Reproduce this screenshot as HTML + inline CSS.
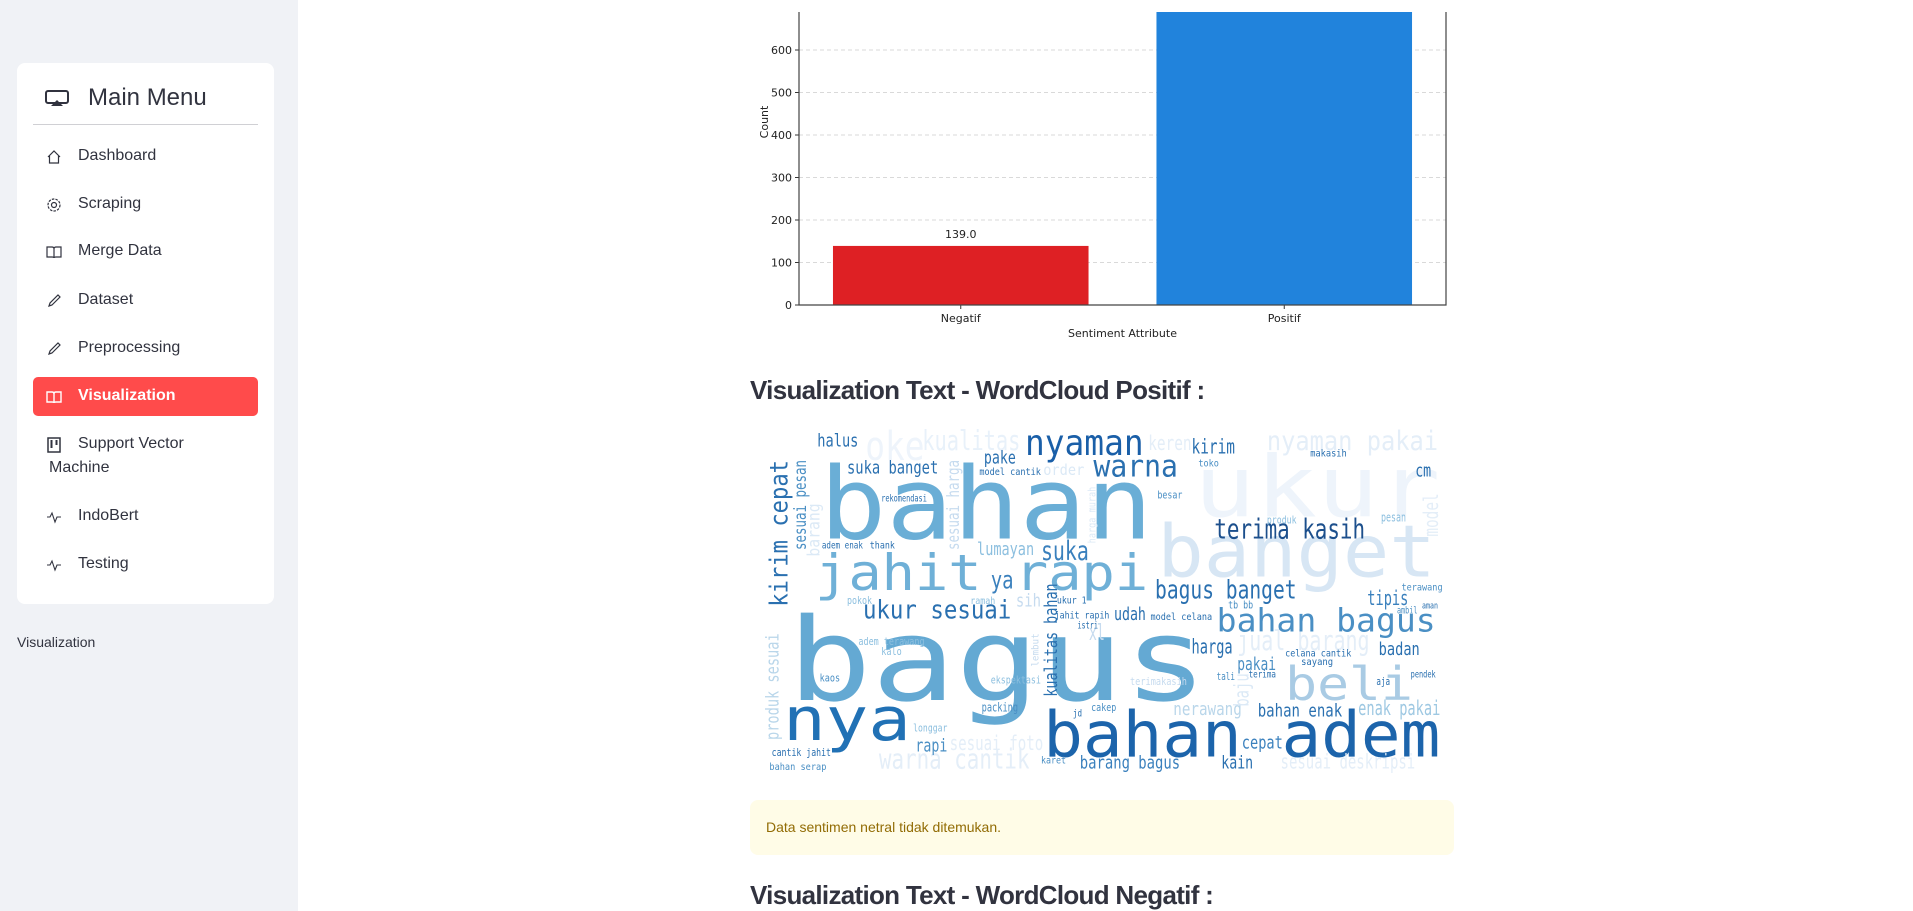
<!DOCTYPE html>
<html><head><meta charset="utf-8">
<style>
*{margin:0;padding:0;box-sizing:border-box}
body{width:1913px;height:911px;overflow:hidden;background:#fff;font-family:"Liberation Sans",sans-serif;position:relative;color:#31333f}
#sidebar{position:absolute;left:0;top:0;width:298px;height:911px;background:#f0f2f6}
#card{position:absolute;left:17px;top:63px;width:257px;height:541px;background:#fff;border-radius:8px}
.title{position:absolute;left:88px;top:84px;font-size:24px;color:#31333f}
.divider{position:absolute;left:16px;top:61px;width:225px;height:1px;background:#d0d0d4}
.item{position:absolute;left:33px;width:225px;height:39px;font-size:16px;color:#31333f}
.item span.t{position:absolute;left:45px;top:10px}
.item svg{position:absolute;left:13px;top:12px}
.item.active{background:#ff4b4b;border-radius:5px;color:#fff;font-weight:bold}
h3{position:absolute;left:750px;font-size:26px;font-weight:bold;color:#31333f;font-family:"Liberation Sans",sans-serif;letter-spacing:-0.7px}
</style></head><body>
<div id="sidebar">
 <div id="card">
  <svg style="position:absolute;left:28px;top:27px" width="24" height="17" viewBox="0 0 24 17"><rect x="1" y="1" width="22" height="12" rx="2" fill="none" stroke="#31333f" stroke-width="2"/><polygon points="6,16 12,10 18,16" fill="#31333f"/></svg>
  <div class="divider"></div>
 </div>
 <div class="title">Main Menu</div>
</div>
<div id="items"></div>
<div style="position:absolute;left:17px;top:634px;font-size:14px;color:#31333f">Visualization</div>

<svg id="chart" style="position:absolute;left:0;top:0" width="1913" height="360"></svg>

<h3 style="top:375px">Visualization Text - WordCloud Positif :</h3>
<svg id="wc" style="position:absolute;left:742px;top:420px" width="712" height="370" viewBox="0 0 1560 1110" preserveAspectRatio="none"></svg>
<div style="position:absolute;left:750px;top:800px;width:704px;height:55px;background:#fffce7;border-radius:8px;font-size:14px;color:#926c05;padding:19px 0 0 16px">Data sentimen netral tidak ditemukan.</div>
<h3 style="top:880px">Visualization Text - WordCloud Negatif :</h3>

<script>
// ---- sidebar ----
const menuLabels=["Dashboard","Scraping","Merge Data","Dataset","Preprocessing","Visualization","Support Vector","IndoBert","Testing"];
const menuTops=[137,185,232,281,329,377,425,497,545];
const icons={
 "Dashboard":'<path d="M2 8 L8 2 L14 8 M3.5 7 V14 H12.5 V7" fill="none" stroke="COL" stroke-width="1.2"/>',
 "Scraping":'<circle cx="8" cy="8" r="2.5" fill="none" stroke="COL" stroke-width="1.2"/><circle cx="8" cy="8" r="6" fill="none" stroke="COL" stroke-width="1.2" stroke-dasharray="2.5 1.2"/>',
 "Merge Data":'<path d="M1 3 H6 Q8 3 8 5 Q8 3 10 3 H15 V13 H10 Q8 13 8 14 Q8 13 6 13 H1 Z M8 5 V14" fill="none" stroke="COL" stroke-width="1.2"/>',
 "Dataset":'<path d="M3 13 L4 10 L12 2 L14 4 L6 12 Z" fill="none" stroke="COL" stroke-width="1.2"/>',
 "Preprocessing":'<path d="M3 13 L4 10 L12 2 L14 4 L6 12 Z" fill="none" stroke="COL" stroke-width="1.2"/>',
 "Visualization":'<path d="M1 3 H6 Q8 3 8 5 Q8 3 10 3 H15 V13 H10 Q8 13 8 14 Q8 13 6 13 H1 Z M8 5 V14" fill="none" stroke="COL" stroke-width="1.4"/>',
 "Support Vector":'<rect x="2" y="1" width="12" height="14" fill="none" stroke="COL" stroke-width="1.5"/><rect x="4.5" y="3" width="2" height="8" fill="COL"/><rect x="9.5" y="3" width="2" height="5" fill="COL"/>',
 "IndoBert":'<path d="M1 8 H4 L6 4 L9 13 L11 8 H15" fill="none" stroke="COL" stroke-width="1.1"/>',
 "Testing":'<path d="M1 8 H4 L6 4 L9 13 L11 8 H15" fill="none" stroke="COL" stroke-width="1.1"/>'
};
const itemsDiv=document.getElementById('items');
menuLabels.forEach((lab,i)=>{
 const d=document.createElement('div');
 d.className='item'+(lab==="Visualization"?' active':'');
 
 
 d.style.top=menuTops[i]+'px';
 const col=lab==="Visualization"?'#fff':'#31333f';
 d.innerHTML='<svg width="16" height="16" viewBox="0 0 16 16">'+icons[lab].replace(/COL/g,col)+'</svg><span class="t">'+lab+'</span>';
 if(lab==="Support Vector"){d.innerHTML+='<span style="position:absolute;left:16px;top:34px">Machine</span>';}
 itemsDiv.appendChild(d);
});

// ---- bar chart ----
const categories=["Negatif","Positif"];
const counts=[139,700];
const shownLabels=["139.0","700.0"];
const yTicks=[0,100,200,300,400,500,600,700];
const NS="http://www.w3.org/2000/svg";
const chart=document.getElementById('chart');
const X0=799,X1=1446,Y0=305,PX=255/600,TOP=12;
const yScale=v=>Y0-v*PX;
const band=(X1-X0)/categories.length;
const xCenter=i=>X0+band*(i+0.5);
const barW=band*0.79;
const colors=["#de2024","#2183dc"];
const defs=document.createElementNS(NS,'defs');
defs.innerHTML='<clipPath id="clipTop"><rect x="0" y="'+TOP+'" width="1913" height="400"/></clipPath>';
chart.appendChild(defs);
const G=document.createElementNS(NS,'g');G.setAttribute('clip-path','url(#clipTop)');chart.appendChild(G);
function el(tag,attrs,text){const e=document.createElementNS(NS,tag);for(const k in attrs)e.setAttribute(k,attrs[k]);if(text!==undefined)e.textContent=text;G.appendChild(e);return e;}
const F='DejaVu Sans, Liberation Sans, sans-serif';
yTicks.forEach(t=>{
 const g=el('line',{x1:X0,x2:X1,y1:yScale(t),y2:yScale(t),stroke:'#d9d9d9','stroke-dasharray':'4 3','stroke-width':1});
 
 
 const tk=el('line',{x1:X0-4,x2:X0,y1:yScale(t),y2:yScale(t),stroke:'#333'});
 
 
 const lb=el('text',{x:X0-7,y:yScale(t)+4,'text-anchor':'end','font-size':11,fill:'#222','font-family':F},String(t));
 
 
});
categories.forEach((c,i)=>{
 const r=el('rect',{x:xCenter(i)-barW/2,y:yScale(counts[i]),width:barW,height:Y0-yScale(counts[i]),fill:colors[i]});
 
 
 const v=el('text',{x:xCenter(i),y:yScale(counts[i])-8,'text-anchor':'middle','font-size':11,fill:'#222','font-family':F},shownLabels[i]);
 
 
 const tk=el('line',{x1:xCenter(i),x2:xCenter(i),y1:Y0,y2:Y0+4,stroke:'#333'});
 
 
 const lb=el('text',{x:xCenter(i),y:Y0+17,'text-anchor':'middle','font-size':11,fill:'#222','font-family':F},c);
 
 
});
const ax=el('path',{d:`M${X0} 0 V${Y0} H${X1} V0`,fill:'none',stroke:'#444','stroke-width':1.2});


const xt=el('text',{x:(X0+X1)/2,y:337,'text-anchor':'middle','font-size':11,fill:'#222','font-family':F},'Sentiment Attribute');


const yt=el('text',{x:0,y:0,'text-anchor':'middle','font-size':11,fill:'#222','font-family':F,transform:'translate(768,122) rotate(-90)'},'Count');



// ---- wordcloud (viewBox units: x1,x2 span, baseline, font size, color, vertical) ----
const wcWords=[
["ukur",990,1530,290,255,"#eef4fb",0],["banget",910,1520,470,216,"#d7e6f4",0],
["bahan",170,900,355,300,"#6aaed6",0],["bagus",100,1020,840,345,"#64a9d3",0],
["jahit rapi",160,890,510,150,"#6fb0d7",0],["nya",90,370,960,180,"#2171b5",0],
["bahan adem",660,1530,1010,190,"#1c64ab",0],["nyaman",620,880,105,108,"#1a5fa8",0],
["warna",770,955,170,90,"#2a70b0",0],["nyaman pakai",1150,1525,90,80,"#e4eef8",0],
["bahan bagus",1040,1520,635,96,"#4a8fc4",0],["beli",1190,1470,840,140,"#a9cbe4",0],
["terima kasih",1035,1365,355,84,"#1c4f8c",0],["bagus banget",905,1215,535,78,"#2a70b0",0],
["ukur sesuai",265,590,595,78,"#2a70b0",0],["kualitas",395,610,90,84,"#e8f1fa",0],
["oke",270,400,120,120,"#eef4fb",0],["suka",655,760,420,80,"#3a80bd",0],
["ya",545,595,505,76,"#3a80bd",0],["tipis",1370,1460,555,60,"#3a80bd",0],
["badan",1395,1485,705,54,"#2a70b0",0],["harga",985,1075,700,60,"#2a70b0",0],
["cepat",1095,1185,985,54,"#3a80bd",0],["barang bagus",740,960,1045,54,"#3a80bd",0],
["warna cantik",300,630,1045,84,"#e4eef8",0],["jual barang",1085,1375,690,84,"#e4eef8",0],
["halus",165,255,80,54,"#2a70b0",0],["pake",530,600,130,54,"#2a70b0",0],
["suka banget",230,430,160,54,"#2a70b0",0],["lumayan",515,640,405,54,"#8cbfdf",0],
["enak pakai",1350,1530,885,60,"#9ec8e2",0],["sesuai deskripsi",1180,1475,1045,60,"#e4eef8",0],
["bahan enak",1130,1315,890,54,"#2a70b0",0],["nerawang",945,1095,885,54,"#b9d6ea",0],
["udah",815,885,600,54,"#2a70b0",0],["pakai",1085,1170,750,54,"#4a8fc4",0],
["xl",760,795,660,66,"#c6dbef",0],["kain",1050,1120,1045,54,"#2a70b0",0],
["cm",1475,1510,170,54,"#2a70b0",0],["kirim",985,1080,100,60,"#2a70b0",0],
["keren",890,985,90,60,"#e4eef8",0],["rapi",380,450,995,54,"#4a8fc4",0],
["sesuai foto",455,660,990,60,"#e4eef8",0],["sih",600,655,560,54,"#c6dbef",0],
["pesan",1400,1455,305,36,"#8cbfdf",0],["rekomendasi",305,405,245,30,"#2a70b0",0],
["adem enak",175,265,385,30,"#2a70b0",0],["thank",280,335,385,30,"#2a70b0",0],
["model cantik",520,655,165,30,"#2a70b0",0],["order",660,750,165,45,"#dbe9f6",0],
["makasih",1245,1325,110,30,"#2a70b0",0],["toko",1000,1045,140,30,"#4a8fc4",0],
["besar",910,965,235,33,"#4a8fc4",0],["produk",1150,1215,310,33,"#8cbfdf",0],
["tb bb",1065,1120,565,33,"#4a8fc4",0],["model celana",895,1030,600,30,"#2a70b0",0],
["jahit rapih",685,805,595,30,"#2a70b0",0],["ukur 1",690,755,550,30,"#2a70b0",0],
["istri",735,780,625,30,"#2a70b0",0],["celana cantik",1190,1335,710,30,"#2a70b0",0],
["sayang",1225,1295,735,30,"#2a70b0",0],["ekspektasi",545,655,790,33,"#8cbfdf",0],
["packing",525,605,875,36,"#4a8fc4",0],["cakep",765,820,873,33,"#4a8fc4",0],
["longgar",375,450,935,33,"#8cbfdf",0],["cantik jahit",65,195,1008,33,"#2a70b0",0],
["bahan serap",60,185,1050,30,"#4a8fc4",0],["kaos",170,215,785,33,"#4a8fc4",0],
["kalo",305,350,705,33,"#8cbfdf",0],["adem terawang",255,400,675,33,"#8cbfdf",0],
["pokok",230,285,552,33,"#8cbfdf",0],["ramah",500,555,552,30,"#8cbfdf",0],
["tali",1040,1080,780,33,"#4a8fc4",0],["aja",1390,1420,795,33,"#2a70b0",0],
["pendek",1465,1520,772,30,"#2a70b0",0],["terawang",1445,1535,512,30,"#4a8fc4",0],
["ambil",1435,1480,580,30,"#4a8fc4",0],["aman",1490,1525,565,27,"#2a70b0",0],
["terima",1110,1170,772,30,"#2a70b0",0],["terimakasih",850,975,795,33,"#c6dbef",0],
["jd",725,745,890,30,"#2a70b0",0],["karet",655,710,1030,30,"#4a8fc4",0],
["kirim cepat",60,100,560,54,"#2a70b0",1],["sesuai pesan",115,140,390,36,"#4a8fc4",1],
["sesuai harga",450,475,390,36,"#c6dbef",1],["model",1490,1525,350,45,"#e4eef8",1],
["kualitas bahan",660,690,830,38,"#2a70b0",1],["produk sesuai",50,80,960,38,"#b9d6ea",1],
["baju",1075,1110,860,45,"#dbe9f6",1],["harga murah",755,775,370,24,"#dbe9f6",1],
["lembut",630,650,740,22,"#c6dbef",1],["barang",150,170,410,36,"#dbe9f6",1]
];
const wcY={"kirim cepat":[120,560],"sesuai pesan":[120,390],"sesuai harga":[120,390],model:[220,350],"kualitas bahan":[490,830],"produk sesuai":[640,960],baju:[760,860],"harga murah":[200,370],lembut:[640,740],barang:[250,410]};
const wc=document.getElementById('wc');
wcWords.forEach(w=>{
 const [txt,x1,x2,base,fs,col,vert]=w;
 const t=document.createElementNS(NS,'text');
 
 
 t.setAttribute('font-family','DejaVu Sans Mono, Liberation Mono, monospace');
 t.setAttribute('font-size',fs);
 t.setAttribute('fill',col);
 t.setAttribute('lengthAdjust','spacingAndGlyphs');
 if(vert){
  const yr=wcY[txt];
  t.setAttribute('x',0);t.setAttribute('y',0);
  t.setAttribute('transform',`translate(${x2},${yr[1]}) rotate(-90)`);
  t.setAttribute('textLength',yr[1]-yr[0]);
 }else{
  t.setAttribute('x',x1);t.setAttribute('y',base);
  t.setAttribute('textLength',x2-x1);
 }
 t.textContent=txt;
 wc.appendChild(t);
});
const order=["ukur","banget","oke","kualitas","nyaman pakai","warna cantik","jual barang"];
order.slice().reverse().forEach(n=>{const e=[...wc.children].find(c=>c.textContent===n);if(e)wc.insertBefore(e,wc.firstChild);});
</script>
</body></html>
